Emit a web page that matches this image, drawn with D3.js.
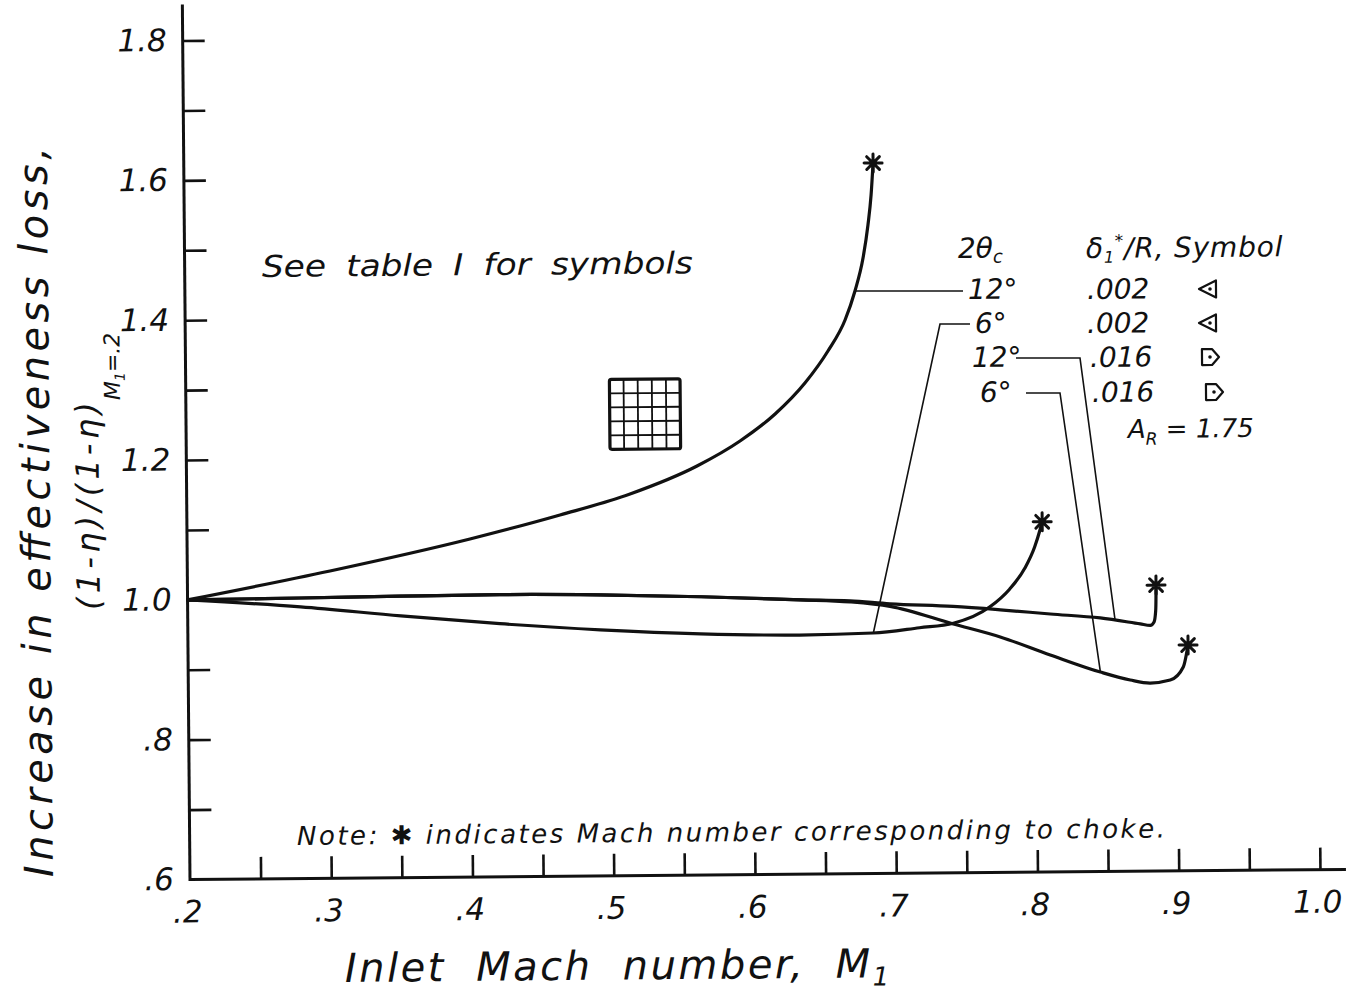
<!DOCTYPE html>
<html>
<head>
<meta charset="utf-8">
<script src="https://cdn.jsdelivr.net/npm/d3@7"></script>
<style>
  body { margin: 0; background: #fff; }
  svg { display: block; }
  text { font-family: "DejaVu Sans", sans-serif; font-style: italic; fill: #111; }
</style>
</head>
<body>
<svg id="chart" width="1351" height="991"></svg>
<script>
// ---- axis ticks -------------------------------------------------------
const xTicks = [0.2, 0.25, 0.3, 0.35, 0.4, 0.45, 0.5, 0.55, 0.6, 0.65, 0.7, 0.75, 0.8, 0.85, 0.9, 0.95, 1.0];
const xLabelValues = [0.2, 0.3, 0.4, 0.5, 0.6, 0.7, 0.8, 0.9, 1.0];
const xTickLabels = [".2", ".3", ".4", ".5", ".6", ".7", ".8", ".9", "1.0"];
const yTicks = [0.6, 0.7, 0.8, 0.9, 1.0, 1.1, 1.2, 1.3, 1.4, 1.5, 1.6, 1.7, 1.8];
const yLabelValues = [0.6, 0.8, 1.0, 1.2, 1.4, 1.6, 1.8];
const yTickLabels = [".6", ".8", "1.0", "1.2", "1.4", "1.6", "1.8"];

// ---- curves: inlet Mach number vs. effectiveness-loss ratio -------------
// 2θc = 12°, δ1*/R = .002
const mach12a = [0.2, 0.301, 0.4003, 0.4642, 0.5139, 0.5615, 0.5921, 0.6171, 0.6384, 0.6549, 0.6672, 0.6744, 0.6803, 0.684, 0.6864, 0.688];
const loss12a = [1.0, 1.0395, 1.0835, 1.1167, 1.1459, 1.1851, 1.2203, 1.2585, 1.3024, 1.3479, 1.392, 1.4334, 1.4804, 1.5276, 1.5705, 1.6162];
// 2θc = 6°, δ1*/R = .002
const mach6a = [0.2, 0.28, 0.351, 0.421, 0.492, 0.563, 0.633, 0.685, 0.718, 0.742, 0.768, 0.782, 0.793, 0.800, 0.804, 0.8055];
const loss6a = [1.0, 0.9885, 0.9745, 0.962, 0.952, 0.945, 0.942, 0.944, 0.951, 0.957, 0.980, 1.005, 1.035, 1.065, 1.09, 1.101];
// 2θc = 12°, δ1*/R = .016
const mach12b = [0.2, 0.2796, 0.3504, 0.421, 0.491, 0.5637, 0.6343, 0.669, 0.6972, 0.7419, 0.7753, 0.8107, 0.846, 0.8743, 0.8814, 0.8841, 0.8853, 0.8856, 0.8857];
const loss12b = [1.0, 1.0012, 1.0026, 1.0036, 1.002, 0.998, 0.9924, 0.9903, 0.9855, 0.981, 0.9756, 0.969, 0.9627, 0.9537, 0.9514, 0.9563, 0.972, 0.992, 1.009];
// 2θc = 6°, δ1*/R = .016
const mach6b = [0.2, 0.2796, 0.3504, 0.421, 0.491, 0.5637, 0.6343, 0.669, 0.6973, 0.742, 0.7751, 0.8104, 0.8458, 0.8669, 0.881, 0.8952, 0.9045, 0.908];
const loss6b = [1.0, 1.0012, 1.0026, 1.0036, 1.002, 0.998, 0.9924, 0.9888, 0.9819, 0.9559, 0.9368, 0.9104, 0.8853, 0.8736, 0.869, 0.873, 0.8915, 0.9229];

// ---- key ----------------------------------------------------------------
const keyAngles = ["12°", "6°", "12°", "6°"];
const keyThickness = [".002", ".002", ".016", ".016"];
const keySymbols = ["triangle", "triangle", "flag", "flag"];
const keyLeaderMach = [0.6744, 0.6853, 0.8565, 0.8458];

const series = [
  { mach: mach12a, loss: loss12a },
  { mach: mach6a, loss: loss6a },
  { mach: mach12b, loss: loss12b },
  { mach: mach6b, loss: loss6b }
];

// ---- layout ---------------------------------------------------------------
const TILT = -0.5;               // the whole sheet sits at a slight tilt
const PIVOT = [190, 880];
const a = TILT * Math.PI / 180;
// page position -> position inside the tilted sheet
function flat(px, py) {
  const dx = px - PIVOT[0], dy = py - PIVOT[1];
  return [PIVOT[0] + dx * Math.cos(a) + dy * Math.sin(a),
          PIVOT[1] - dx * Math.sin(a) + dy * Math.cos(a)];
}

const svg = d3.select("#chart");
svg.append("rect").attr("width", 1351).attr("height", 991).attr("fill", "#fff");
const sheet = svg.append("g").attr("transform", `rotate(${TILT},${PIVOT[0]},${PIVOT[1]})`);

const x = d3.scaleLinear().domain([0.2, 1.0]).range([190, 1320]);
const y = d3.scaleLinear().domain([0.6, 1.8]).range([879.5, 40.5]);

const key = v => Math.round(v * 100);
const xLab = new Map(xLabelValues.map((v, i) => [key(v), xTickLabels[i]]));
const yLab = new Map(yLabelValues.map((v, i) => [key(v), yTickLabels[i]]));

// axes
const xAxis = d3.axisBottom(x).tickValues(xTicks).tickSizeInner(-22).tickSizeOuter(0)
  .tickPadding(21).tickFormat(d => xLab.get(key(d)) || "");
const yAxis = d3.axisLeft(y).tickValues(yTicks).tickSizeInner(-22).tickSizeOuter(0)
  .tickPadding(16).tickFormat(d => yLab.get(key(d)) || "");

const gx = sheet.append("g").attr("transform", `translate(0,${y(0.6)})`).call(xAxis);
const gy = sheet.append("g").attr("transform", `translate(${x(0.2)},0)`).call(yAxis);
[gx, gy].forEach(g => {
  g.select(".domain").remove();
  g.selectAll(".tick line").attr("stroke", "#111").attr("stroke-width", 2.6);
  g.selectAll(".tick text").attr("font-family", null).attr("font-size", 31).attr("fill", "#111");
});
gx.selectAll(".tick").filter(d => key(d) === 20).select("line").remove();
gy.selectAll(".tick").filter(d => key(d) === 60).select("line").remove();
gx.selectAll(".tick text").attr("dx", -3);

sheet.append("line").attr("x1", x(0.2)).attr("x2", x(1.0) + 26)
  .attr("y1", y(0.6)).attr("y2", y(0.6)).attr("stroke", "#111").attr("stroke-width", 3);
sheet.append("line").attr("x1", x(0.2)).attr("x2", x(0.2))
  .attr("y1", y(0.6) + 1.5).attr("y2", y(1.8) - 36).attr("stroke", "#111").attr("stroke-width", 3);

// curves
const line = d3.line().x(d => x(d[0])).y(d => y(d[1])).curve(d3.curveMonotoneX);
series.forEach(s => {
  const pts = s.mach.map((m, i) => [m, s.loss[i]]);
  sheet.append("path").attr("d", line(pts)).attr("fill", "none")
    .attr("stroke", "#111").attr("stroke-width", 3.2).attr("stroke-linejoin", "round").attr("stroke-linecap", "round");
});

// choke asterisks at the end of each curve
function starPath(r) {
  let p = "";
  [0, 45, 90, 135].forEach(deg => {
    const t = deg * Math.PI / 180, c = Math.cos(t) * r, s = Math.sin(t) * r;
    p += `M${-c},${-s}L${c},${s}`;
  });
  return p;
}
series.forEach(s => {
  const n = s.mach.length - 1;
  sheet.append("path").attr("d", starPath(9))
    .attr("transform", `translate(${x(s.mach[n])},${y(s.loss[n])})`)
    .attr("stroke", "#111").attr("stroke-width", 3).attr("stroke-linecap", "round");
});

// grid sketch next to the note on symbols
const gx0 = x(0.5), gx1 = x(0.55), gy0 = y(1.31), gy1 = y(1.21);
const grid = sheet.append("g").attr("stroke", "#111").attr("fill", "none");
for (let i = 1; i < 5; i++) {
  grid.append("line").attr("x1", gx0 + (gx1 - gx0) * i / 5).attr("x2", gx0 + (gx1 - gx0) * i / 5)
    .attr("y1", gy0).attr("y2", gy1).attr("stroke-width", 1.8);
  grid.append("line").attr("y1", gy0 + (gy1 - gy0) * i / 5).attr("y2", gy0 + (gy1 - gy0) * i / 5)
    .attr("x1", gx0).attr("x2", gx1).attr("stroke-width", 1.8);
}
grid.append("rect").attr("x", gx0).attr("y", gy0).attr("width", gx1 - gx0).attr("height", gy1 - gy0)
  .attr("stroke-width", 3.2).attr("rx", 2);

// helper for text placed by page position
function label(px, py, str, size, opts = {}) {
  const [u, v] = flat(px, py);
  const t = sheet.append("text").attr("x", u).attr("y", v).attr("font-size", size).text(str);
  if (opts.len) t.attr("textLength", opts.len).attr("lengthAdjust", opts.adjust || "spacing");
  if (opts.anchor) t.attr("text-anchor", opts.anchor);
  if (opts.ws) t.attr("word-spacing", opts.ws);
  return t;
}

// axis titles
{
  const [u, v] = flat(53, 877);
  sheet.append("text").attr("transform", `translate(${u},${v}) rotate(-90)`)
    .attr("font-size", 40).attr("textLength", 730).attr("lengthAdjust", "spacing")
    .text("Increase in effectiveness loss,");
  const [u2, v2] = flat(100, 610);
  sheet.append("text").attr("transform", `translate(${u2},${v2}) rotate(-90)`)
    .attr("font-size", 32).attr("textLength", 208).attr("lengthAdjust", "spacing")
    .text("(1-η)/(1-η)");
  const [u3, v3] = flat(120, 400);
  const sub = sheet.append("text").attr("transform", `translate(${u3},${v3}) rotate(-90)`)
    .attr("font-size", 22);
  sub.append("tspan").text("M");
  sub.append("tspan").attr("dy", 5).attr("font-size", 14).text("1");
  sub.append("tspan").attr("dy", -5).text("=.2");
}
{
  const t = label(345, 982, "", 40).attr("word-spacing", 15).attr("letter-spacing", 2.5);
  t.append("tspan").text("Inlet Mach number, M");
  t.append("tspan").attr("dy", 8).attr("font-size", 26).text("1");
}

// notes
label(262, 277, "See table I for symbols", 30, { ws: 8, len: 431, adjust: "spacingAndGlyphs" });
label(297, 845, "Note: ✱ indicates Mach number corresponding to choke.", 26, { len: 868 });

// key heading
{
  const t = label(958, 258, "", 28);
  t.append("tspan").text("2θ");
  t.append("tspan").attr("dy", 5).attr("font-size", 18).text("c");
  const t2 = label(1086, 258, "", 28).attr("letter-spacing", 0.8);
  t2.append("tspan").text("δ");
  t2.append("tspan").attr("dy", 5).attr("font-size", 16).text("1");
  t2.append("tspan").attr("dy", -16).attr("font-size", 17).text("*");
  t2.append("tspan").attr("dy", 11).text("/R, Symbol");
}

// key rows
const rowY = [299, 333, 367, 402];
const angleX = [968, 975, 972, 980];
const thickX = [1087, 1087, 1090, 1092];
const symX = [1208, 1208, 1210, 1214];
keyAngles.forEach((s, i) => label(angleX[i], rowY[i], s, 28));
keyThickness.forEach((s, i) => label(thickX[i], rowY[i], s, 28));

const symbolShapes = {
  triangle: "M8,-8.5L-9,0L8,8.5Z",
  flag: "M-8,-8L2,-8L9,0L2,8L-8,8Z"
};
keySymbols.forEach((s, i) => {
  const [u, v] = flat(symX[i], rowY[i] - 10);
  const g = sheet.append("g").attr("transform", `translate(${u},${v})`);
  g.append("path").attr("d", symbolShapes[s]).attr("fill", "none").attr("stroke", "#111")
    .attr("stroke-width", 2.2).attr("stroke-linejoin", "round");
  g.append("circle").attr("cx", s === "triangle" ? 2 : 0).attr("r", 1.8).attr("fill", "#111");
});
{
  const t = label(1128, 438, "", 26);
  t.append("tspan").text("A");
  t.append("tspan").attr("dy", 7).attr("font-size", 17).text("R");
  t.append("tspan").attr("dy", -7).text(" = 1.75");
}

// leader lines from the key to each curve
function lossAt(s, m) {
  for (let i = 1; i < s.mach.length; i++) {
    if (s.mach[i] >= m) {
      const f = (m - s.mach[i - 1]) / (s.mach[i] - s.mach[i - 1]);
      return s.loss[i - 1] + f * (s.loss[i] - s.loss[i - 1]);
    }
  }
  return s.loss[s.loss.length - 1];
}
const leaderRoutes = [
  [[963, 291]],
  [[940, 324], [970, 324]],
  [[1080, 358], [1016, 358]],
  [[1060, 393], [1026, 393]]
];
keyLeaderMach.forEach((m, i) => {
  const s = series[i];
  const pts = [[x(m), y(lossAt(s, m))]].concat(leaderRoutes[i].map(p => flat(p[0], p[1])));
  sheet.append("path").attr("d", d3.line()(pts)).attr("fill", "none")
    .attr("stroke", "#111").attr("stroke-width", 1.6);
});
</script>
</body>
</html>
